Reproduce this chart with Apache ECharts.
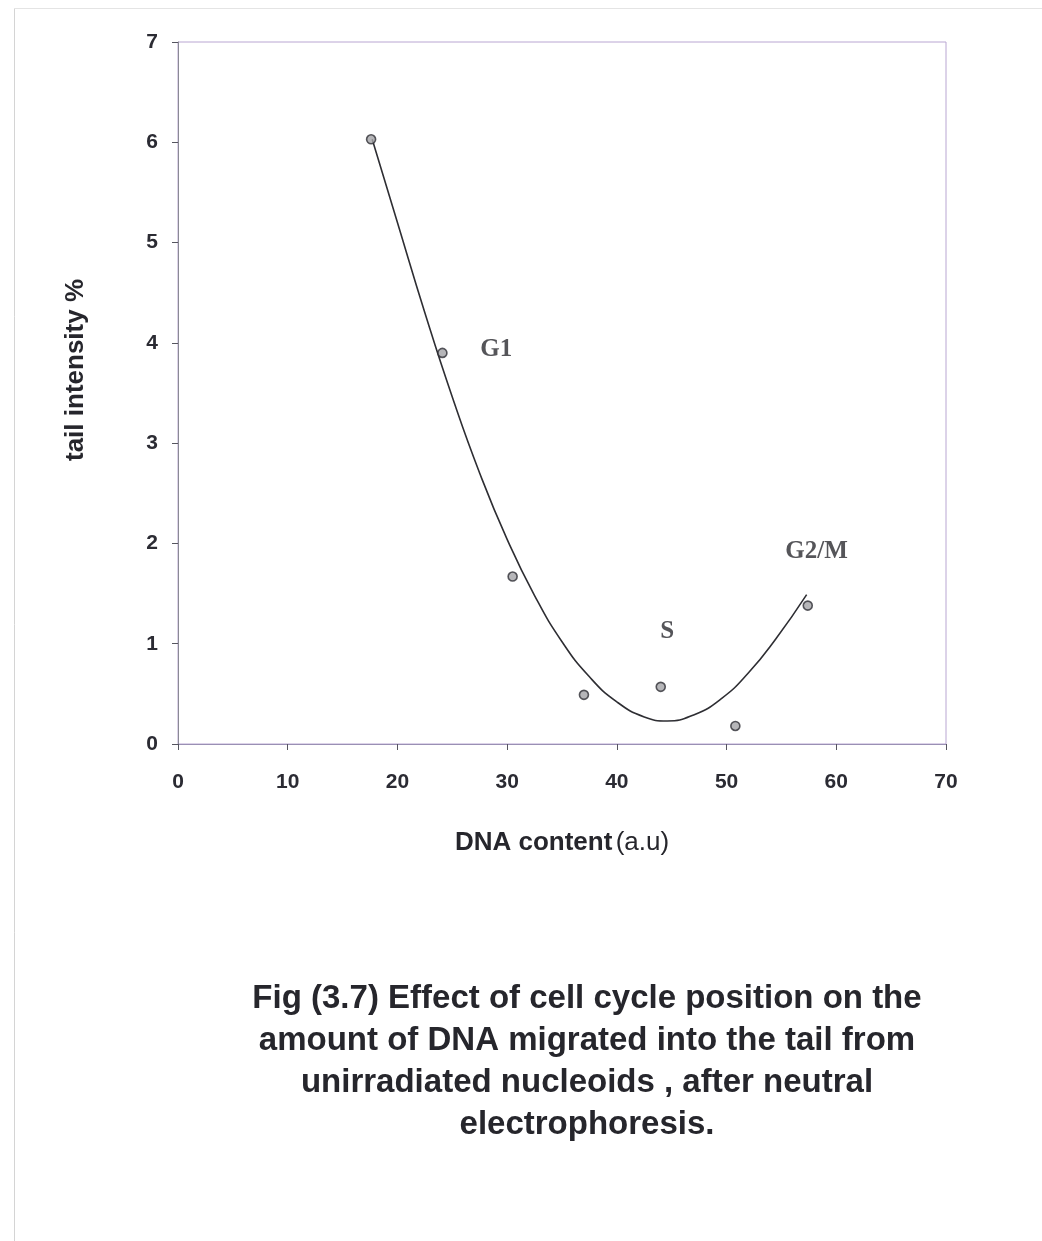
<!DOCTYPE html>
<html>
<head>
<meta charset="utf-8">
<script src="https://cdn.jsdelivr.net/npm/echarts@6/dist/echarts.min.js"></script>
<style>
  html, body { margin: 0; padding: 0; background: #ffffff; }
  #chart { width: 1042px; height: 1241px; }
</style>
</head>
<body>
<div id="chart"></div>
<script>
// Measured nucleoids: DNA content (a.u) vs tail intensity (%)
const dnaContent = [17.6, 24.1, 30.5, 37.0, 44.0, 50.8, 57.4];
const tailIntensity = [6.03, 3.90, 1.67, 0.49, 0.57, 0.18, 1.38];

// Fitted trend curve through the cell-cycle phases
const trendX = [17.7, 20, 22.5, 25, 27.5, 30, 32.5, 35, 37.5, 40, 42.5, 44.6, 47, 49.5, 52, 54.5, 57.3];
const trendY = [6.03, 5.20, 4.30, 3.46, 2.70, 2.04, 1.48, 1.02, 0.67, 0.42, 0.27, 0.23, 0.29, 0.45, 0.71, 1.05, 1.49];

// Cell-cycle phase annotations
const phaseNames = ['G1', 'S', 'G2/M'];
const phaseX = [29.0, 44.6, 58.2];
const phaseY = [3.93, 1.12, 1.92];

const xTicks = { min: 0, max: 70, interval: 10 };
const yTicks = { min: 0, max: 7, interval: 1 };

const caption = 'Fig (3.7) Effect of cell cycle position on the\namount of DNA migrated into the tail from\nunirradiated nucleoids , after neutral\nelectrophoresis.';

const chart = echarts.init(document.getElementById('chart'), null, { renderer: 'canvas' });

const sans = 'Liberation Sans, Arial, sans-serif';
const tickFont = { fontFamily: sans, fontWeight: 'bold', fontSize: 21, color: '#2b2b33' };

chart.setOption({
  backgroundColor: '#ffffff',
  animation: false,
  title: {
    text: caption,
    left: 582,
    top: 973,
    textAlign: 'center',
    textStyle: {
      fontFamily: sans,
      fontWeight: 'bold',
      fontSize: 33,
      lineHeight: 42,
      color: '#26262c'
    }
  },
  graphic: [
    { type: 'line', shape: { x1: 14.5, y1: 8, x2: 14.5, y2: 1241 }, style: { stroke: '#d4d4d4', lineWidth: 1 }, silent: true },
    { type: 'line', shape: { x1: 14, y1: 8.5, x2: 1042, y2: 8.5 }, style: { stroke: '#e4e4e4', lineWidth: 1 }, silent: true }
  ],
  grid: {
    left: 178,
    right: 96,
    top: 42,
    bottom: 497,
    show: true,
    borderColor: '#b9a6d2',
    borderWidth: 1,
    backgroundColor: 'transparent'
  },
  xAxis: {
    type: 'value',
    min: xTicks.min,
    max: xTicks.max,
    interval: xTicks.interval,
    name: '{b|DNA content} {r|(a.u)}',
    nameLocation: 'middle',
    nameGap: 86,
    nameTextStyle: {
      rich: {
        b: { fontFamily: sans, fontWeight: 'bold', fontSize: 26, color: '#26262c' },
        r: { fontFamily: sans, fontWeight: 'normal', fontSize: 26, color: '#26262c' }
      }
    },
    axisLine: { show: true, onZero: false, lineStyle: { color: '#9a90b4', width: 1 } },
    axisTick: { show: true, inside: false, length: 6, lineStyle: { color: '#55555f' } },
    axisLabel: Object.assign({ margin: 28 }, tickFont),
    splitLine: { show: false }
  },
  yAxis: {
    type: 'value',
    min: yTicks.min,
    max: yTicks.max,
    interval: yTicks.interval,
    name: 'tail intensity %',
    nameLocation: 'middle',
    nameGap: 89,
    nameTextStyle: {
      fontFamily: sans,
      fontWeight: 'bold',
      fontSize: 26,
      color: '#26262c',
      padding: [0, 0, 0, 46]
    },
    axisLine: { show: true, onZero: false, lineStyle: { color: '#8a8a95', width: 1 } },
    axisTick: { show: true, inside: false, length: 6, lineStyle: { color: '#55555f' } },
    axisLabel: Object.assign({ margin: 20 }, tickFont),
    splitLine: { show: false }
  },
  series: [
    {
      name: 'trend',
      type: 'line',
      data: trendX.map((x, i) => [x, trendY[i]]),
      smooth: 0.5,
      showSymbol: false,
      symbol: 'none',
      lineStyle: { color: '#2e2e33', width: 1.6 },
      z: 2
    },
    {
      name: 'nucleoids',
      type: 'scatter',
      data: dnaContent.map((x, i) => [x, tailIntensity[i]]),
      symbol: 'circle',
      symbolSize: 9,
      itemStyle: { color: '#a4a4a8', borderColor: '#303036', borderWidth: 1.6 },
      z: 3
    },
    {
      name: 'phases',
      type: 'scatter',
      data: phaseNames.map((n, i) => ({ value: [phaseX[i], phaseY[i]], name: n })),
      symbolSize: 0,
      label: {
        show: true,
        position: 'inside',
        formatter: p => p.name,
        fontFamily: 'Liberation Serif, Times New Roman, serif',
        fontWeight: 'bold',
        fontSize: 25,
        color: '#2a2a30'
      },
      z: 4
    }
  ]
});
</script>
</body>
</html>
